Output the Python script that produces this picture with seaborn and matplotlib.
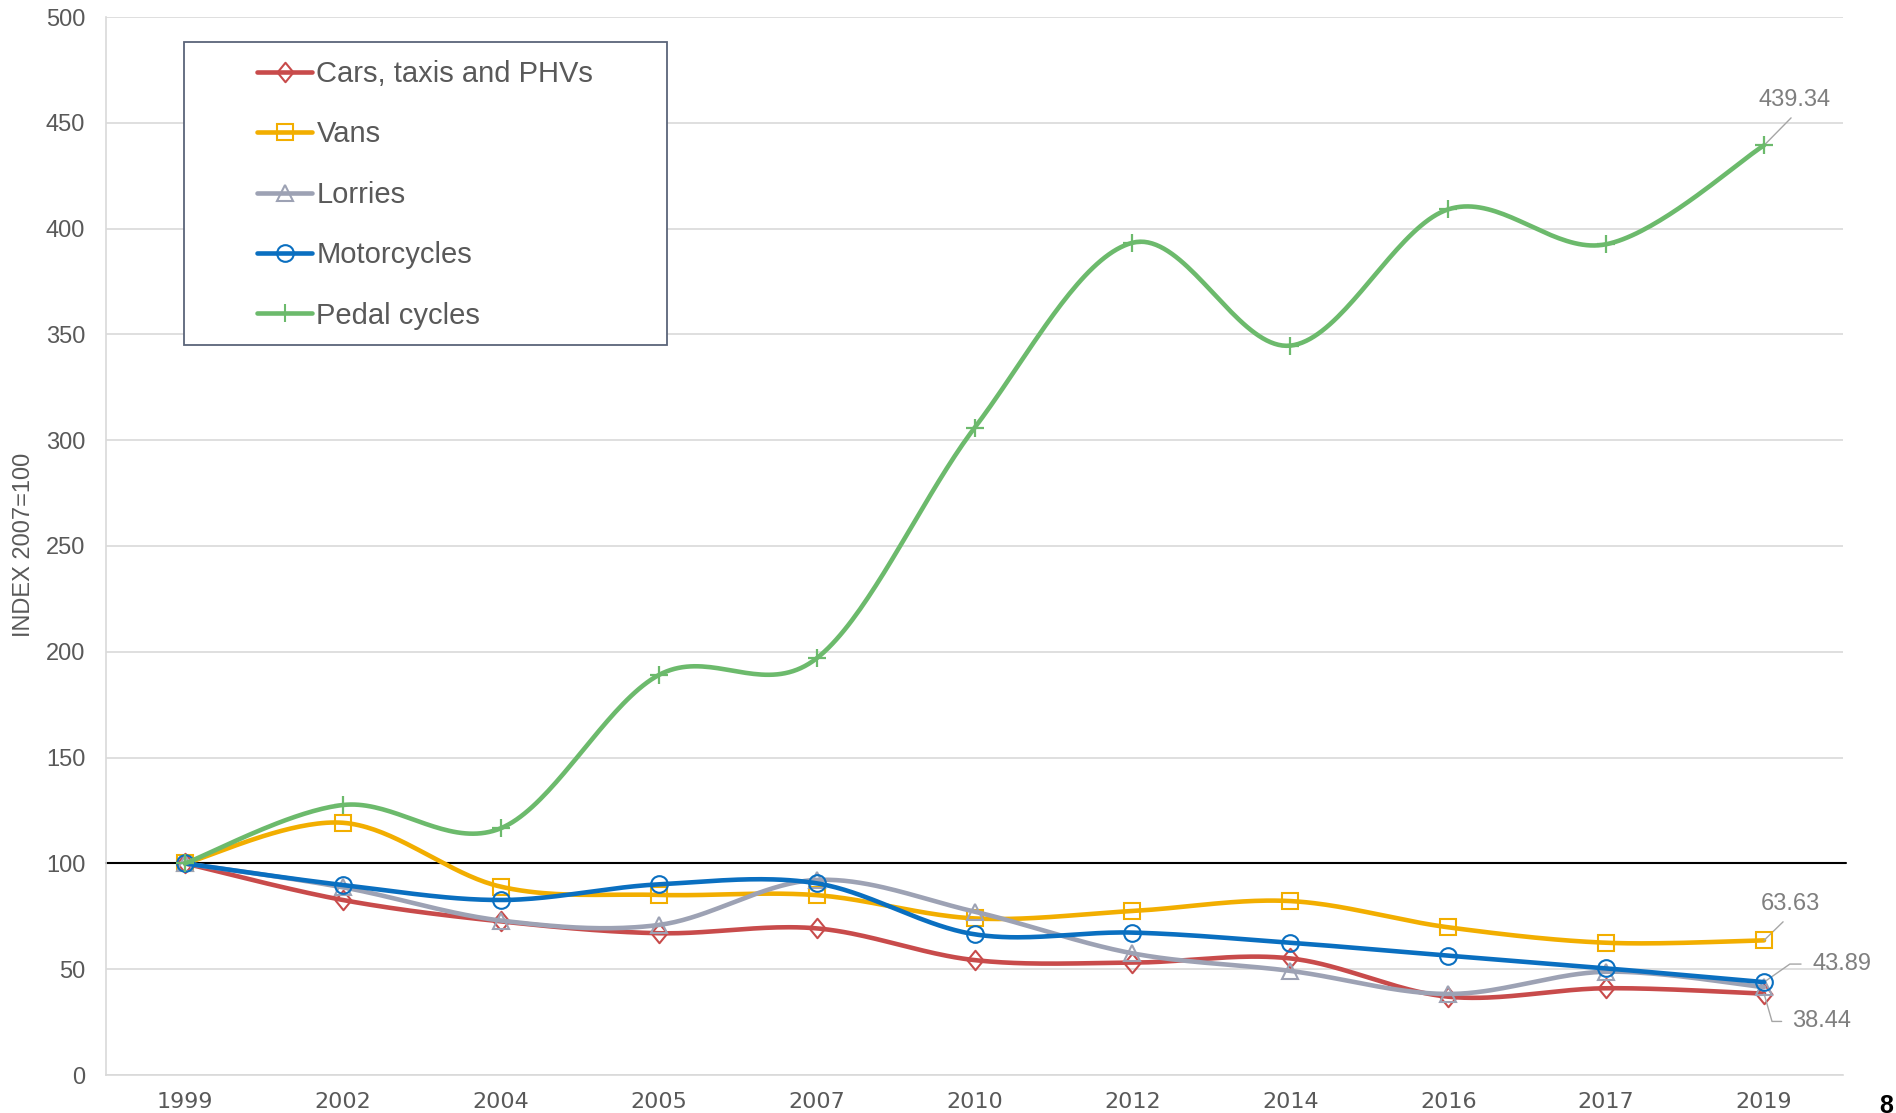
import numpy as np
import pandas as pd
import matplotlib
matplotlib.use("Agg")
import matplotlib.pyplot as plt
from matplotlib.lines import Line2D
from matplotlib.patches import Rectangle
from matplotlib.path import Path
import seaborn as sns

# ---------------- data ----------------
years = ["1999", "2002", "2004", "2005", "2007", "2010", "2012", "2014", "2016", "2017", "2019"]
cars = [100, 82.7, 72.6, 67.0, 69.3, 54.3, 53.1, 55.1, 37.0, 41.0, 38.44]
vans = [100, 119.2, 89.0, 85.1, 85.0, 74.0, 77.5, 82.2, 69.8, 62.5, 63.63]
lorries = [100, 88.7, 73.0, 70.9, 92.2, 77.2, 57.5, 49.2, 38.3, 48.8, 41.5]
motorcycles = [100, 89.8, 82.7, 90.1, 90.6, 66.5, 67.3, 62.5, 56.4, 50.4, 43.89]
pedal = [100, 127.6, 116.6, 189.0, 196.9, 305.8, 393.3, 344.7, 409.1, 392.6, 439.34]

series_names = ["Cars, taxis and PHVs", "Vans", "Lorries", "Motorcycles", "Pedal cycles"]
series_values = [cars, vans, lorries, motorcycles, pedal]
colors = ["#C84B4B", "#F2AE00", "#9DA2B4", "#0A6FC0", "#6CBA6C"]

y_ticks = list(range(0, 501, 50))
y_label = "INDEX 2007=100"
end_labels = ["439.34", "63.63", "43.89", "38.44"]

# ---------------- style ----------------
sns.set_style("white")
plt.rcParams["font.family"] = ["Liberation Sans", "DejaVu Sans"]

W, H = 1896, 1113
fig = plt.figure(figsize=(W / 100, H / 100), dpi=100)
ax = fig.add_axes([106 / W, 1 - 1075 / H, (1843 - 106) / W, (1075 - 17) / H])

xpos = np.arange(len(years))


def smooth(xv, yv, n=40):
    """Excel-like smoothed line (Catmull-Rom Bezier) through the points."""
    P = np.column_stack([xv, yv]).astype(float)
    out = []
    m = len(P)
    for i in range(m - 1):
        p0 = P[i - 1] if i > 0 else P[i]
        p1 = P[i]
        p2 = P[i + 1]
        p3 = P[i + 2] if i + 2 < m else P[i + 1]
        c1 = p1 + (p2 - p0) / 6.0
        c2 = p2 - (p3 - p1) / 6.0
        t = np.linspace(0, 1, n, endpoint=(i == m - 2))[:, None]
        b = ((1 - t) ** 3) * p1 + 3 * ((1 - t) ** 2) * t * c1 + 3 * (1 - t) * t ** 2 * c2 + t ** 3 * p2
        out.append(b)
    out = np.vstack(out)
    return out[:, 0], out[:, 1]


diamond = Path([(0, 1), (0.82, 0), (0, -1), (-0.82, 0), (0, 1)],
               [Path.MOVETO, Path.LINETO, Path.LINETO, Path.LINETO, Path.CLOSEPOLY])
markers = [diamond, "s", "^", "o", "+"]
msizes = [14, 11.5, 12, 12, 13]

# gridlines
for v in y_ticks:
    ax.axhline(v, color="#D9D9D9", lw=1.2, zorder=0)
ax.axhline(100, color="black", lw=1.5, zorder=1, xmin=0, xmax=1.002, clip_on=False)

handles = []
for k, (name, vals, col, mk, ms) in enumerate(zip(series_names, series_values, colors, markers, msizes)):
    sx, sy = smooth(xpos, vals)
    df = pd.DataFrame({"x": sx, "y": sy})
    sns.lineplot(data=df, x="x", y="y", ax=ax, color=col, lw=3.3, sort=False,
                 estimator=None, zorder=2 + k)
    if mk == "+":
        ax.plot(xpos, vals, linestyle="none", marker=mk, ms=ms, mew=1.6, color=col, zorder=2.5 + k)
    else:
        ax.plot(xpos, vals, linestyle="none", marker=mk, ms=ms, mew=1.5, mec=col, mfc="none",
                zorder=2.5 + k)
    handles.append(Line2D([], [], color=col, lw=3.3, marker=mk, ms=ms,
                          mew=1.5, mec=col, mfc="none"))

ax.set_xlim(-0.5, len(years) - 0.5)
ax.set_ylim(0, 500)
ax.set_xticks(xpos)
ax.set_xticklabels(years, fontfamily="DejaVu Sans", fontsize=16, color="#595959")
ax.set_yticks(y_ticks)
ax.set_yticklabels([str(v) for v in y_ticks], fontsize=17, color="#595959")
ax.tick_params(axis="x", length=0, pad=12)
ax.tick_params(axis="y", length=0, pad=15)
ax.set_xlabel("")
ax.set_ylabel("")
for s in ["top", "right"]:
    ax.spines[s].set_visible(False)
for s in ["left", "bottom"]:
    ax.spines[s].set_color("#D9D9D9")
    ax.spines[s].set_linewidth(1.2)

fig.text(24 / W, 1 - 545 / H, y_label, rotation=90, ha="center", va="center",
         fontsize=17, color="#595959")

# legend with separate frame
ax.add_patch(Rectangle(((184 - 106) / 1737, (1075 - 345) / 1058), 483 / 1737, 303 / 1058,
                       transform=ax.transAxes, fill=True, facecolor="white",
                       edgecolor="#5B6479", lw=1.3, zorder=20))
leg = ax.legend(handles, series_names, loc="upper left",
                bbox_to_anchor=((257 - 106) / 1737, (1075 - 60) / 1058),
                frameon=False, borderpad=0, borderaxespad=0, fontsize=21,
                handlelength=1.9, handletextpad=0.14, labelspacing=1.11)
leg.set_zorder(21)
for t in leg.get_texts():
    t.set_color("#595959")

# end labels
ann_color = "#7F7F7F"
line_col = "#A6A6A6"
last = len(years) - 1
ax.annotate(end_labels[0], xy=(last, pedal[-1]), xytext=(22, 25), textcoords="offset points",
            ha="center", va="bottom", fontsize=17, color=ann_color,
            arrowprops=dict(arrowstyle="-", color=line_col, lw=1.0, shrinkA=4, shrinkB=0,
                            relpos=(0.55, 0)))
ax.annotate(end_labels[1], xy=(last, vans[-1]), xytext=(19, 18.5), textcoords="offset points",
            ha="center", va="bottom", fontsize=17, color=ann_color,
            arrowprops=dict(arrowstyle="-", color=line_col, lw=1.0, shrinkA=4, shrinkB=0,
                            relpos=(0.5, 0)))
ax.annotate(end_labels[2], xy=(last, motorcycles[-1]), xytext=(35, 13), textcoords="offset points",
            ha="left", va="center", fontsize=17, color=ann_color,
            arrowprops=dict(arrowstyle="-", color=line_col, lw=1.0, shrinkA=6, shrinkB=0,
                            relpos=(0, 0.5), connectionstyle="angle,angleA=0,angleB=35,rad=0"))
ax.annotate(end_labels[3], xy=(last, cars[-1]), xytext=(20, -20), textcoords="offset points",
            ha="left", va="center", fontsize=17, color=ann_color,
            arrowprops=dict(arrowstyle="-", color=line_col, lw=1.0, shrinkA=5, shrinkB=0,
                            relpos=(0, 0.5), connectionstyle="angle,angleA=0,angleB=-74,rad=0"))

fig.text(1879 / W, 1 - 1094 / H, "8", ha="left", va="top", fontsize=18,
         fontweight="bold", color="black")

fig.savefig("out.png", dpi=100)
